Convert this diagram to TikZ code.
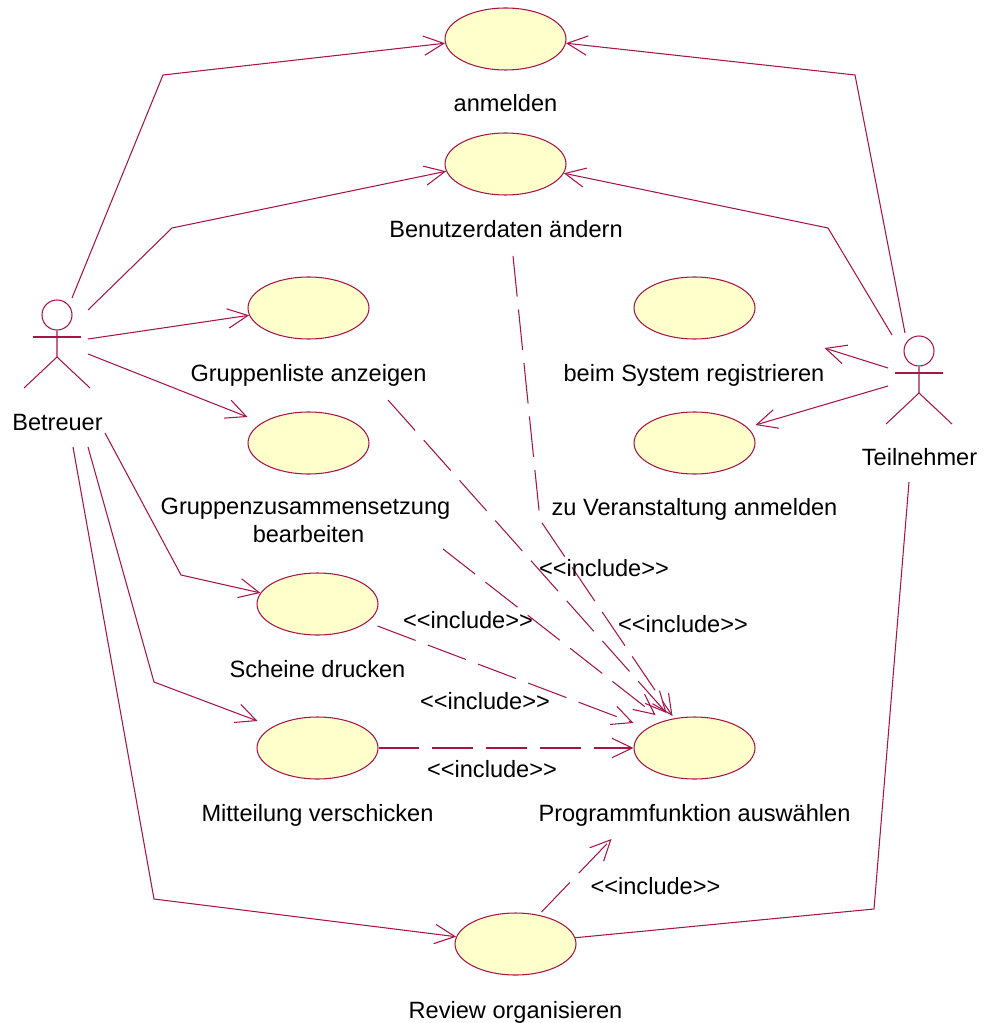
\documentclass[tikz,border=0pt]{standalone}
\usepackage{fontspec}
\setmainfont{Liberation Sans}
\usetikzlibrary{
  arrows.meta,
  shapes.geometric
}
\definecolor{umlline}{RGB}{168,20,72}
\definecolor{umlfill}{RGB}{255,255,204}
\newcommand{\incl}{{<}{<}include{>}{>}}
\tikzset{
>={Straight Barb[length=11.5pt,width=11pt]},
usecase/.style={ellipse, draw=umlline, fill=umlfill, line width=0.6pt, minimum width=2.42cm, minimum height=1.24cm, inner sep=0pt},
uclabel/.style={anchor=base, align=center, inner sep=0pt, font=\fontsize{13.42}{15.4}\selectfont},
actorhead/.style={circle, draw=umlline, line width=0.6pt, minimum size=0.6cm, inner sep=0pt},
assoc/.style={draw=umlline, line width=0.6pt},
incl/.style={assoc, dash pattern=on 23.2pt off 7.4pt}
}

\begin{document}
\begin{tikzpicture}[x=0.02cm, y=-0.02cm]
 \useasboundingbox (0,0) rectangle (983,1023);

 \node[usecase] (anmelden) at (505.5,39) {};
 \node[usecase] (benutzerdaten) at (505.5,164) {};
 \node[usecase] (gruppenliste) at (308.5,308) {};
 \node[usecase] (gruppenzus) at (308.5,443) {};
 \node[usecase] (scheine) at (317.5,604) {};
 \node[usecase] (mitteilung) at (317.5,748) {};
 \node[usecase] (review) at (515.5,944) {};
 \node[usecase] (registrieren) at (694.5,308) {};
 \node[usecase] (veranstaltung) at (694.5,443) {};
 \node[usecase] (programm) at (694.5,748) {};

 \node[uclabel] (anmeldentxt) at (505.5,112) {anmelden};
 \node[uclabel] (benutzerdatentxt) at (506,238) {Benutzerdaten ändern};
 \node[uclabel] (gruppenlistetxt) at (308.5,381) {Gruppenliste anzeigen};
 \node[uclabel] (gruppenzustxt) at (305.5,542) {Gruppenzusammensetzung\\\hspace*{3.4pt}bearbeiten};
 \node[uclabel] (scheinetxt) at (317.5,677) {Scheine drucken};
 \node[uclabel] (mitteilungtxt) at (317.5,821) {Mitteilung verschicken};
 \node[uclabel] (reviewtxt) at (515.5,1018) {Review organisieren};
 \node[uclabel] (registrierentxt) at (694,381) {beim System registrieren};
 \node[uclabel] (veranstaltungtxt) at (694.5,515) {zu Veranstaltung anmelden};
 \node[uclabel] (programmtxt) at (694.5,821) {Programmfunktion auswählen};

 \node[actorhead] (betreuer) at (57,315) {};
 \draw[assoc] (betreuer.south) -- (57,357) -- (24,388);
 \draw[assoc] (57,357) -- (90,388);
 \draw[assoc] (33,337) -- (81,337);
 \node[uclabel] (betreuertxt) at (57.5,430) {Betreuer};

 \node[actorhead] (teilnehmer) at (919,351) {};
 \draw[assoc] (teilnehmer.south) -- (919,393) -- (886,424);
 \draw[assoc] (919,393) -- (952,424);
 \draw[assoc] (895,373) -- (943,373);
 \node[uclabel] (teilnehmertxt) at (919.5,465) {Teilnehmer};

 \coordinate (b1) at (72,298);
 \coordinate (b2) at (88,310);
 \coordinate (b3) at (88,339);
 \coordinate (b4) at (88,354);
 \coordinate (b5) at (105,433);
 \coordinate (b6) at (88,447);
 \coordinate (b7) at (73,447);
 \coordinate (t1) at (905,333);
 \coordinate (t2) at (892,335);
 \coordinate (t3) at (888,368);
 \coordinate (t4) at (888,386);
 \coordinate (t5) at (909,482);

 \draw[assoc, ->] (b1) -- (163,75) -- (anmelden.184);
 \draw[assoc, ->] (b2) -- (172,228) -- (benutzerdaten.187);
 \draw[assoc, ->] (b3) -- (gruppenliste.187);
 \draw[assoc, ->] (b4) -- ([shift={(-61,-26)}]gruppenzus.center);
 \draw[assoc, ->] (b5) -- (181,575) -- (scheine.169);
 \draw[assoc, ->] (b6) -- (154,682) -- ([shift={(-60,-27)}]mitteilung.center);
 \draw[assoc, ->] (b7) -- (154,899) -- (review.173);

 \draw[assoc, ->] (t1) -- (855,75) -- (anmelden.356);
 \draw[assoc, ->] (t2) -- (828,228) -- (benutzerdaten.351);
 \draw[assoc, ->] (t3) -- ([shift={(130,40)}]registrieren.center);
 \draw[assoc, ->] (t4) -- ([shift={(61,-18)}]veranstaltung.center);
 \draw[assoc] (t5) -- (874,909) -- (review.6);

 \coordinate (i1) at (513,256);
 \coordinate (i2) at (388,400);
 \coordinate (i3) at (443,549);
 \draw[incl, ->] (i1) -- (540,520) -- ([shift={(-22,-32)}]programm.center);
 \draw[incl, ->] (i2) -- ([shift={(-28,-35)}]programm.center);
 \draw[incl, ->] (i3) -- ([shift={(-39,-33)}]programm.center);
 \draw[incl, ->] ([shift={(60,22)}]scheine.center) -- ([shift={(-61,-25)}]programm.center);
 \draw[incl, ->] (mitteilung.east) -- (programm.west);
 \draw[incl, ->] ([shift={(26,-32)}]review.center) -- ([shift={(-83,91)}]programm.center);

 \node[uclabel] (incla) at (604,576) {\incl};
 \node[uclabel] (inclb) at (468,628) {\incl};
 \node[uclabel] (inclc) at (683,632) {\incl};
 \node[uclabel] (incld) at (485,709) {\incl};
 \node[uclabel] (incle) at (492,777) {\incl};
 \node[uclabel] (inclf) at (655.5,894) {\incl};
\end{tikzpicture}
\end{document}
